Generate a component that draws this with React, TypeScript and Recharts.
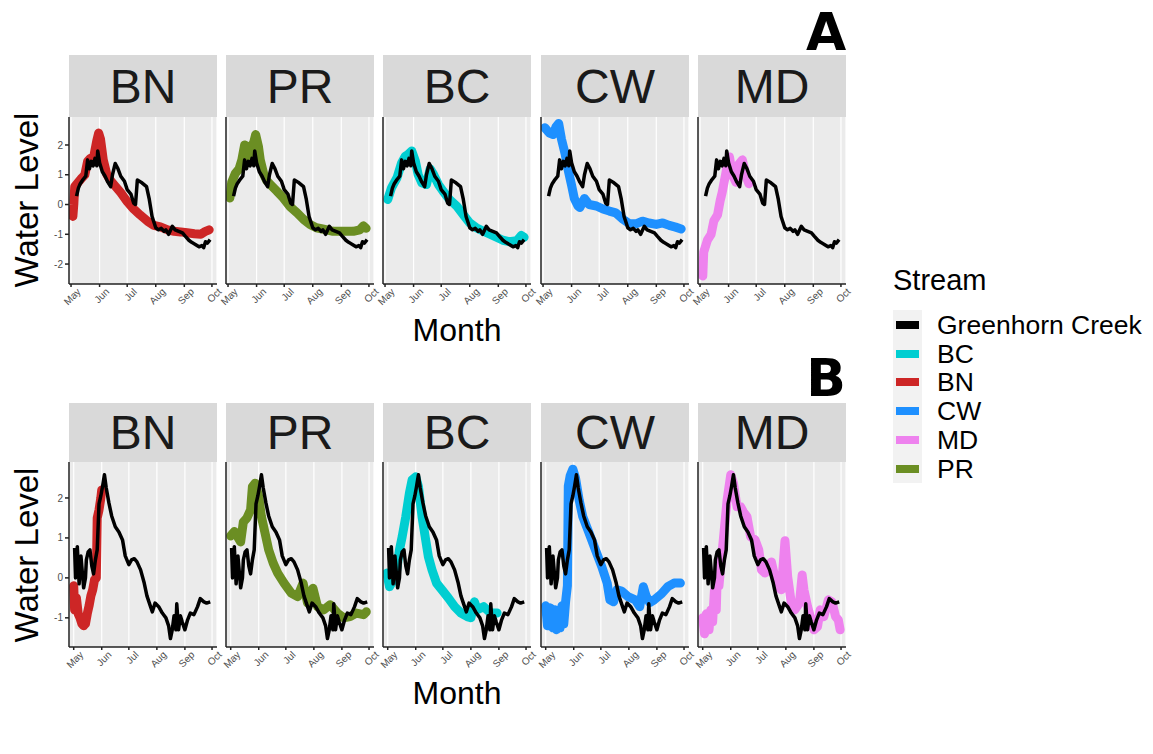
import { CartesianGrid, Line, LineChart, XAxis, YAxis } from 'recharts';

// day of year ticks (May 1 .. Oct 1)
const monthTicks = [121, 152, 182, 213, 244, 274];
const monthLabels = ['May', 'Jun', 'Jul', 'Aug', 'Sep', 'Oct'];
const facets = ['BN', 'PR', 'BC', 'CW', 'MD'];
const legendNames = ['Greenhorn Creek', 'BC', 'BN', 'CW', 'MD', 'PR'];

const streamColors: Record<string, string> = {
  'Greenhorn Creek': '#000000',
  BC: '#00CED1',
  BN: '#CD2626',
  CW: '#1E90FF',
  MD: '#EE82EE',
  PR: '#6B8E23',
};

// [day of year, water level] -- panel A
const greenhornA = [
  [127, 0.28], [129, 0.55], [131, 0.7], [134, 0.84], [137, 0.95], [139, 1.5], [141, 1.2], [143, 1.45],
  [145, 1.3], [147, 1.55], [149, 1.3], [150, 1.8], [152, 1.4], [155, 1.1], [158, 0.95], [161, 0.75],
  [163, 0.65], [164, 0.6], [166, 1.0], [169, 1.38], [172, 1.2], [175, 0.95], [179, 0.78], [182, 0.5],
  [186, 0.35], [189, 0.05], [191, 0.0], [193, 0.82], [198, 0.73], [203, 0.6], [206, 0.17], [209, -0.4],
  [213, -0.78], [216, -0.85], [219, -0.8], [222, -0.9], [224, -0.85], [227, -1.0], [231, -0.73],
  [234, -0.85], [238, -0.9], [242, -0.95], [245, -1.06], [249, -1.2], [252, -1.27], [256, -1.34],
  [260, -1.42], [263, -1.38], [265, -1.45], [267, -1.25], [269, -1.3], [272, -1.18],
];
const bnA = [
  [123, -0.4], [124, 0.0], [125, 0.6], [129, 0.75], [133, 0.9], [136, 1.0], [139, 1.45], [142, 1.55],
  [145, 1.5], [149, 2.15], [151, 2.4], [153, 2.2], [156, 1.5], [160, 1.0], [164, 0.8], [169, 0.62],
  [175, 0.4], [182, 0.1], [189, -0.15], [196, -0.35], [204, -0.56], [211, -0.7], [218, -0.75],
  [226, -0.85], [233, -0.9], [240, -0.92], [247, -0.95], [255, -0.98], [262, -1.0], [267, -0.9], [271, -0.85],
];
const prA = [
  [123, 0.22], [125, 0.75], [129, 1.05], [133, 1.2], [136, 1.5], [139, 2.0], [142, 1.95], [143, 1.6],
  [145, 1.85], [149, 2.1], [151, 2.35], [154, 1.95], [156, 1.5], [160, 1.0], [163, 0.8], [167, 0.67],
  [174, 0.45], [181, 0.22], [188, -0.06], [196, -0.28], [203, -0.5], [210, -0.67], [217, -0.78],
  [225, -0.83], [235, -0.9], [246, -0.9], [257, -0.9], [264, -0.85], [268, -0.72], [271, -0.8],
];
const bcA = [
  [124, 0.17], [128, 0.56], [134, 0.9], [139, 1.4], [143, 1.62], [146, 1.68], [150, 1.8], [154, 1.45],
  [157, 1.0], [161, 0.73], [166, 0.67], [170, 1.2], [173, 1.05], [179, 0.67], [184, 0.45], [191, 0.17],
  [199, -0.06], [206, -0.34], [213, -0.62], [220, -0.78], [228, -0.9], [235, -1.0], [242, -1.1],
  [249, -1.2], [256, -1.25], [264, -1.22], [269, -1.04], [272, -1.1],
];
const cwA = [
  [123, 2.58], [128, 2.4], [132, 2.35], [135, 2.6], [138, 2.72], [141, 2.2], [145, 1.7], [148, 1.2],
  [152, 0.65], [155, 0.2], [159, -0.05], [161, -0.1], [166, 0.2], [171, 0.0], [179, -0.05], [186, -0.15],
  [193, -0.22], [200, -0.28], [208, -0.5], [215, -0.65], [222, -0.65], [229, -0.56], [236, -0.62],
  [244, -0.67], [251, -0.62], [258, -0.7], [265, -0.76], [271, -0.82],
];
const mdA = [
  [124, -2.4], [125, -1.6], [129, -1.2], [133, -1.0], [136, -0.55], [140, -0.35], [143, 0.15], [145, 0.4],
  [149, 1.05], [151, 1.4], [153, 1.6], [156, 1.0], [160, 0.75], [163, 1.35], [167, 1.5], [171, 0.95], [174, 0.7],
];

// [day of year, water level] -- panel B
const greenhornB = [
  [122, 0.75], [123, 0.0], [125, 0.78], [127, -0.15], [129, 0.55], [132, -0.25], [134, 0.0], [135, 0.45],
  [137, 0.65], [139, 0.7], [141, 0.3], [143, 0.1], [145, 0.45], [147, 0.7], [149, 1.85], [151, 2.05],
  [153, 2.3], [155, 2.58], [157, 2.25], [160, 1.87], [163, 1.55], [167, 1.28], [171, 1.15], [175, 0.95],
  [178, 0.55], [182, 0.33], [185, 0.45], [188, 0.48], [191, 0.4], [195, 0.2], [199, -0.13], [202, -0.45],
  [206, -0.72], [208, -0.85], [211, -0.63], [215, -0.72], [219, -0.88], [223, -1.0], [226, -1.2],
  [228, -1.52], [230, -1.3], [232, -0.95], [234, -1.3], [235, -0.65], [237, -1.3], [239, -0.95],
  [241, -1.1], [244, -1.3], [247, -1.05], [250, -0.88], [254, -0.92], [258, -0.72], [261, -0.52],
  [265, -0.6], [268, -0.63], [272, -0.6],
];
const bnB = [
  [121, -0.2], [122, -0.8], [124, -0.5], [126, -0.9], [128, -1.0], [130, -1.15], [132, -1.2], [134, -1.15],
  [136, -0.9], [138, -0.7], [140, -0.45], [142, -0.3], [144, -0.05], [146, 0.0], [147, 1.5], [149, 1.7],
  [151, 2.0], [152, 2.2],
];
const prB = [
  [121, 1.05], [125, 1.16], [128, 1.05], [132, 0.9], [135, 1.4], [139, 1.5], [143, 1.7], [145, 2.28],
  [148, 2.37], [152, 2.03], [155, 1.53], [159, 1.12], [163, 0.7], [168, 0.37], [173, 0.12], [180, -0.13],
  [188, -0.38], [195, -0.47], [201, -0.13], [206, -0.63], [212, -0.26], [217, -0.72], [224, -0.8],
  [231, -0.67], [239, -0.88], [246, -1.0], [253, -0.97], [260, -0.88], [268, -0.92], [271, -0.85],
];
const bcB = [
  [120, 0.12], [123, -0.22], [126, -0.1], [130, 0.03], [134, 0.7], [137, 1.03], [141, 1.53], [145, 2.12],
  [148, 2.45], [152, 2.53], [155, 2.28], [159, 1.53], [163, 0.95], [166, 0.53], [170, 0.2], [175, -0.13],
  [181, -0.3], [188, -0.5], [195, -0.72], [202, -0.88], [209, -0.97], [213, -1.0], [217, -0.6],
  [220, -0.8], [227, -0.72], [235, -0.88], [242, -0.88],
];
const cwB = [
  [121, -0.7], [123, -1.2], [126, -0.75], [129, -1.25], [131, -0.8], [133, -1.3], [135, -1.15], [137, -1.25],
  [139, -0.7], [141, -1.15], [143, -0.6], [145, -0.2], [146, 2.3], [148, 2.55], [151, 2.72], [154, 2.5],
  [158, 1.95], [162, 1.53], [169, 1.12], [176, 0.7], [183, 0.28], [189, -0.13], [192, -0.55], [196, -0.6],
  [200, -0.3], [205, -0.33], [212, -0.47], [220, -0.55], [225, -0.72], [229, -0.22], [232, -0.45],
  [236, -0.62], [241, -0.55], [249, -0.4], [256, -0.22], [263, -0.13], [270, -0.13],
];
const mdB = [
  [121, -1.0], [123, -1.4], [125, -0.9], [128, -1.3], [130, -0.8], [132, -1.1], [134, -0.3], [136, -0.8],
  [137, 0.0], [139, -0.2], [141, 0.3], [144, 1.0], [148, 1.95], [152, 2.58], [155, 2.37], [159, 1.78],
  [163, 1.78], [166, 1.65], [170, 1.53], [174, 1.03], [179, 0.95], [183, 0.7], [186, 0.2], [190, 0.12],
  [194, 0.32], [197, 0.4], [201, 0.0], [204, -0.22], [208, -0.3], [212, 0.93], [215, 0.03], [219, -0.63],
  [223, -0.8], [228, -0.63], [231, 0.07], [233, -0.3], [237, -0.72], [241, -1.05], [244, -1.3],
  [248, -1.22], [251, -0.8], [255, -0.97], [260, -0.55], [264, -0.6], [268, -0.97], [271, -1.05], [273, -1.3],
];

const toRows = (pts: number[][]) => pts.map(([d, v]) => ({ d, v }));

const rowsA: Record<string, number[][]> = { BN: bnA, PR: prA, BC: bcA, CW: cwA, MD: mdA };
const rowsB: Record<string, number[][]> = { BN: bnB, PR: prB, BC: bcB, CW: cwB, MD: mdB };

const FONT = '"Liberation Sans", Arial, sans-serif';
const panelXs = [69, 226, 383, 541, 698];
const PANEL_W = 148;
const AXIS_W = 35;
const RIGHT_PAD = 12;

const rows = [
  {
    key: 'A', black: greenhornA, series: rowsA, stripTop: 55, stripH: 62, plotTop: 117, plotH: 167,
    xDomain: [118.8, 279.5], yDomain: [-2.67, 2.94], yTicks: [-2, -1, 0, 1, 2], monthY: 330, wlY: 200, letterY: 2,
  },
  {
    key: 'B', black: greenhornB, series: rowsB, stripTop: 403, stripH: 59, plotTop: 462, plotH: 185,
    xDomain: [115.8, 279.5], yDomain: [-1.73, 2.9], yTicks: [-1, 0, 1, 2], monthY: 693, wlY: 555, letterY: 348,
  },
];

function MonthTick(props: any) {
  const { x, y, payload } = props;
  const i = monthTicks.indexOf(payload.value);
  return (
    <g transform={`translate(${x + 4},${y - 3}) rotate(-45)`}>
      <text textAnchor="end" dy={9} fontSize={10} fill="#4D4D4D" fontFamily={FONT}>
        {monthLabels[i]}
      </text>
    </g>
  );
}

function Facet({ row, idx, name }: { row: (typeof rows)[number]; idx: number; name: string }) {
  const x = panelXs[idx];
  return (
    <>
      <div
        style={{
          position: 'absolute', left: x, top: row.stripTop, width: PANEL_W, height: row.stripH,
          background: '#D9D9D9', color: '#1A1A1A', fontSize: 48, fontFamily: FONT,
          display: 'flex', alignItems: 'center', justifyContent: 'center',
        }}
      >
        {name}
      </div>
      <div style={{ position: 'absolute', left: x - AXIS_W, top: row.plotTop }}>
        <LineChart
          width={AXIS_W + PANEL_W + RIGHT_PAD}
          height={row.plotH + 40}
          margin={{ top: 0, right: RIGHT_PAD, left: 0, bottom: 0 }}
        >
          <CartesianGrid horizontal={false} fill="#EBEBEB" stroke="#FFFFFF" strokeWidth={1.2} />
          <XAxis
            dataKey="d" type="number" domain={row.xDomain} allowDataOverflow ticks={monthTicks}
            height={40} tick={<MonthTick />} tickSize={3} stroke="#222" strokeWidth={1.5} interval={0}
          />
          <YAxis
            type="number" domain={row.yDomain} allowDataOverflow ticks={row.yTicks} width={AXIS_W}
            tick={idx === 0 ? { fontSize: 10, fill: '#4D4D4D', fontFamily: FONT } : false}
            tickSize={idx === 0 ? 4 : 0} stroke="#222" strokeWidth={1.5} interval={0}
          />
          <Line
            data={toRows(row.series[name])} dataKey="v" stroke={streamColors[name]} strokeWidth={9}
            strokeLinejoin="round" strokeLinecap="round" dot={false} isAnimationActive={false} type="linear"
          />
          <Line
            data={toRows(row.black)} dataKey="v" stroke="#000000" strokeWidth={3.5}
            strokeLinejoin="round" dot={false} isAnimationActive={false} type="linear"
          />
        </LineChart>
      </div>
    </>
  );
}

export default function App() {
  return (
    <div style={{ position: 'absolute', left: 0, top: 0, width: 1153, height: 754, background: '#fff', fontFamily: FONT }}>
      {rows.map((row) => (
        <div key={row.key}>
          {facets.map((f, i) => (
            <Facet key={f} row={row} idx={i} name={f} />
          ))}
          <div
            style={{
              position: 'absolute', left: 27, top: row.wlY, transform: 'translate(-50%, -50%) rotate(-90deg)',
              fontSize: 33, whiteSpace: 'nowrap', color: '#000',
            }}
          >
            Water Level
          </div>
          <div
            style={{
              position: 'absolute', left: 457, top: row.monthY, transform: 'translate(-50%, -50%)',
              fontSize: 32, color: '#000',
            }}
          >
            Month
          </div>
          <div
            style={{
              position: 'absolute', left: 826, top: row.letterY, transform: 'translateX(-50%)',
              fontSize: 52, fontWeight: 900, fontFamily: '"DejaVu Sans", sans-serif', color: '#000',
            }}
          >
            {row.key}
          </div>
        </div>
      ))}
      <div style={{ position: 'absolute', left: 893, top: 264, fontSize: 29, color: '#000' }}>Stream</div>
      <div style={{ position: 'absolute', left: 893, top: 310, width: 29, height: 173, background: '#F2F2F2' }} />
      {legendNames.map((n, i) => (
        <div key={n}>
          <div
            style={{
              position: 'absolute', left: 896, top: 325 + i * 28.7 - 4, width: 23, height: 8,
              background: streamColors[n],
            }}
          />
          <div
            style={{
              position: 'absolute', left: 937, top: 325 + i * 28.7, transform: 'translateY(-50%)',
              fontSize: 26.5, color: '#000', whiteSpace: 'nowrap',
            }}
          >
            {n}
          </div>
        </div>
      ))}
    </div>
  );
}
